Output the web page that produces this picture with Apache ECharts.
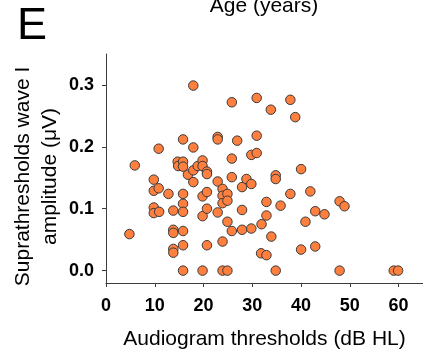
<!DOCTYPE html>
<html>
<head>
<meta charset="utf-8">
<script src="https://cdn.jsdelivr.net/npm/echarts@6/dist/echarts.min.js"></script>
<style>
html,body{margin:0;padding:0;background:#fff;}
#chart{width:423px;height:349px;}
</style>
</head>
<body>
<div id="chart"></div>
<script>
// Audiogram thresholds (dB HL)
const thresholds = [
  4.8, 5.9, 9.8, 9.8, 10.8, 9.8, 9.8, 10.9, 10.8, 12.8,
  13.8, 13.8, 13.8, 13.8, 13.8, 14.7, 14.8, 15.8, 15.8, 15.8,
  15.8, 15.8, 15.8, 15.8, 15.8, 15.8, 16.8, 17.9, 17.9, 17.9,
  17.9, 18.8, 19.8, 19.8, 19.8, 19.8, 19.8, 20.7, 20.7, 20.7,
  20.7, 20.7, 22.9, 22.9, 22.9, 22.9, 23.9, 23.9, 23.9, 24.9,
  24.9, 24.9, 23.9, 23.9, 24.9, 25.8, 25.8, 25.8, 25.8, 26.9,
  27.9, 27.9, 27.9, 28.8, 29.8, 29.8, 29.8, 30.9, 30.9, 30.9,
  31.9, 31.8, 32.9, 32.9, 32.9, 33.8, 33.9, 34.8, 34.8, 34.8,
  35.8, 37.8, 37.8, 38.8, 40.0, 40.0, 40.9, 41.9, 42.9, 42.9,
  44.8, 47.9, 48.9, 47.9, 59.0, 59.9
];
// Suprathreshold wave I amplitude (µV)
const amplitudes = [
  0.059, 0.170, 0.147, 0.129, 0.133, 0.102, 0.093, 0.095, 0.197, 0.124,
  0.097, 0.066, 0.061, 0.035, 0.029, 0.176, 0.169, 0.176, 0.168, 0.212,
  0.124, 0.108, 0.095, 0.064, 0.041, 0.000, 0.155, 0.162, 0.143, 0.299,
  0.199, 0.169, 0.178, 0.169, 0.120, 0.088, 0.000, 0.160, 0.156, 0.127,
  0.100, 0.041, 0.216, 0.212, 0.144, 0.094, 0.132, 0.121, 0.109, 0.124,
  0.113, 0.079, 0.047, 0.000, 0.000, 0.272, 0.181, 0.151, 0.064, 0.210,
  0.135, 0.098, 0.066, 0.148, 0.140, 0.187, 0.068, 0.279, 0.218, 0.190,
  0.075, 0.028, 0.025, 0.111, 0.089, 0.260, 0.055, 0.154, 0.148, 0.000,
  0.105, 0.276, 0.124, 0.248, 0.164, 0.034, 0.079, 0.128, 0.096, 0.039,
  0.091, 0.112, 0.104, 0.000, 0.000, 0.000
];
const xTicks = [0, 10, 20, 30, 40, 50, 60];
const yTicks = [0.0, 0.1, 0.2, 0.3];
const panelLabel = 'E';
const topTitle = 'Age (years)';
const xName = 'Audiogram thresholds (dB HL)';
const yName = 'Suprathresholds wave I\namplitude (\u03bcV)';

const points = thresholds.map((x, i) => [x, amplitudes[i]]);
const FONT = 'Arial, "Liberation Sans", sans-serif';
const axisCol = '#3c3c3c';

const chart = echarts.init(document.getElementById('chart'), null, {renderer: 'canvas'});
chart.setOption({
  animation: false,
  backgroundColor: '#ffffff',
  grid: {left: 106, top: 54, right: 0, bottom: 66, containLabel: false, outerBoundsMode: 'none'},
  xAxis: {
    type: 'value', min: 0, max: 65,
    name: xName, nameLocation: 'middle', nameGap: 46,
    nameTextStyle: {fontFamily: FONT, fontSize: 21, color: '#000'},
    splitLine: {show: false},
    axisLine: {show: true, onZero: false, lineStyle: {color: axisCol, width: 1}},
    axisTick: {show: true, inside: false, length: 4, customValues: xTicks, lineStyle: {color: axisCol}},
    axisLabel: {customValues: xTicks, margin: 14, fontFamily: FONT, fontSize: 18, fontWeight: 'bold', color: '#000'}
  },
  yAxis: {
    type: 'value', min: -0.02, max: 0.35,
    splitLine: {show: false},
    axisLine: {show: true, onZero: false, lineStyle: {color: axisCol, width: 1}},
    axisTick: {show: true, inside: false, length: 4, customValues: yTicks, lineStyle: {color: axisCol}},
    axisLabel: {customValues: yTicks, margin: 12, fontFamily: FONT, fontSize: 18, fontWeight: 'bold', color: '#000',
      formatter: v => v.toFixed(1)}
  },
  graphic: [
    {type: 'text', left: 17, top: 4, style: {text: panelLabel, font: '45px ' + FONT, fill: '#000'}},
    {type: 'text', x: 264, y: 6, style: {text: topTitle, font: '21px ' + FONT, fill: '#000', textAlign: 'center', textVerticalAlign: 'middle'}},
    {type: 'text', x: 37, y: 176.5, rotation: Math.PI / 2,
      style: {text: yName, font: '21px ' + FONT, fill: '#000', textAlign: 'center', textVerticalAlign: 'middle', lineHeight: 27}}
  ],
  series: [{
    type: 'scatter',
    data: points,
    symbol: 'circle',
    symbolSize: 9.5,
    itemStyle: {color: '#FF7F3F', borderColor: '#3a3a3a', borderWidth: 1, opacity: 1}
  }]
});
</script>
</body>
</html>
